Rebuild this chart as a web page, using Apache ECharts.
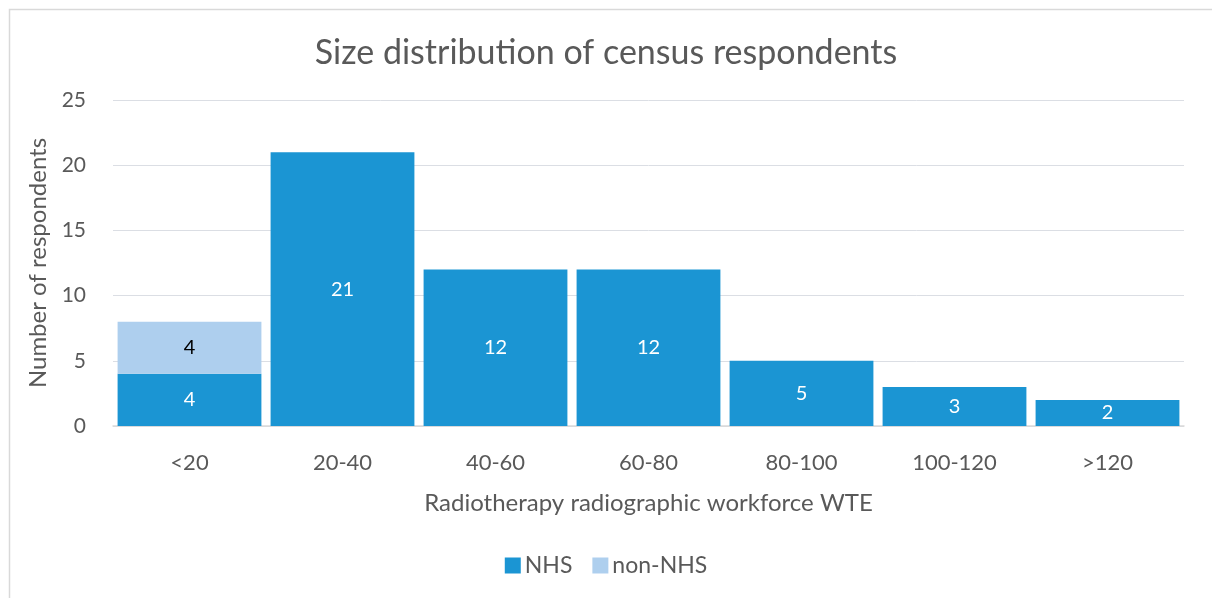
<!DOCTYPE html>
<html><head><meta charset="utf-8">
<script src="https://cdn.jsdelivr.net/npm/echarts@6/dist/echarts.min.js"></script>
<style>html,body{margin:0;padding:0;background:#fff}#c{width:1212px;height:598px}</style>
</head><body><div id="c"></div>
<script>
const categories = ['<20','20-40','40-60','60-80','80-100','100-120','>120'];
const nhs = [4,21,12,12,5,3,2];
const nonNhs = [4,null,null,null,null,null,null];
const yTicks = {min:0,max:25,interval:5};
const FONT = 'Lato, "Open Sans", sans-serif';
const chart = echarts.init(document.getElementById('c'));
chart.setOption({
  animation:false,
  textStyle:{fontFamily:FONT},
  graphic:[{type:'rect',shape:{x:9.5,y:9.5,width:1400,height:800},style:{fill:null,stroke:'#d9d9d9',lineWidth:1.5},silent:true}],
  title:{text:'Size distribution of census respondents',left:'center',top:31,
    textStyle:{fontFamily:FONT,fontSize:34,fontWeight:'normal',color:'#595959'}},
  legend:{bottom:16,left:'center',itemWidth:16,itemHeight:16,itemGap:20,icon:'rect',
    textStyle:{fontFamily:FONT,fontSize:23,color:'#595959',padding:[0,0,0,-1]},data:['NHS','non-NHS']},
  grid:{left:113,right:28,top:100,bottom:172},
  xAxis:{type:'category',data:categories,
    name:'Radiotherapy radiographic workforce WTE',nameLocation:'middle',nameGap:65,
    nameTextStyle:{fontFamily:FONT,fontSize:24,color:'#595959'},
    axisLine:{lineStyle:{color:'#d9d9d9',width:1.5}},axisTick:{show:false},
    axisLabel:{fontFamily:FONT,fontSize:22,color:'#595959',margin:26}},
  yAxis:{type:'value',min:yTicks.min,max:yTicks.max,interval:yTicks.interval,
    name:'Number of respondents',nameLocation:'middle',nameGap:62,
    nameTextStyle:{fontFamily:FONT,fontSize:24,color:'#595959'},
    axisLine:{show:false},axisTick:{show:false},
    axisLabel:{fontFamily:FONT,fontSize:21,color:'#595959',margin:27}},
  series:[
    {name:'NHS',type:'bar',stack:'a',data:nhs,barCategoryGap:'6%',
     itemStyle:{color:'#1b95d3'},
     label:{show:true,position:'inside',color:'#fff',fontFamily:FONT,fontSize:20}},
    {name:'non-NHS',type:'bar',stack:'a',data:nonNhs,
     itemStyle:{color:'#aecfee'},
     label:{show:true,position:'inside',color:'#000',fontFamily:FONT,fontSize:20}}
  ]
});
</script></body></html>
